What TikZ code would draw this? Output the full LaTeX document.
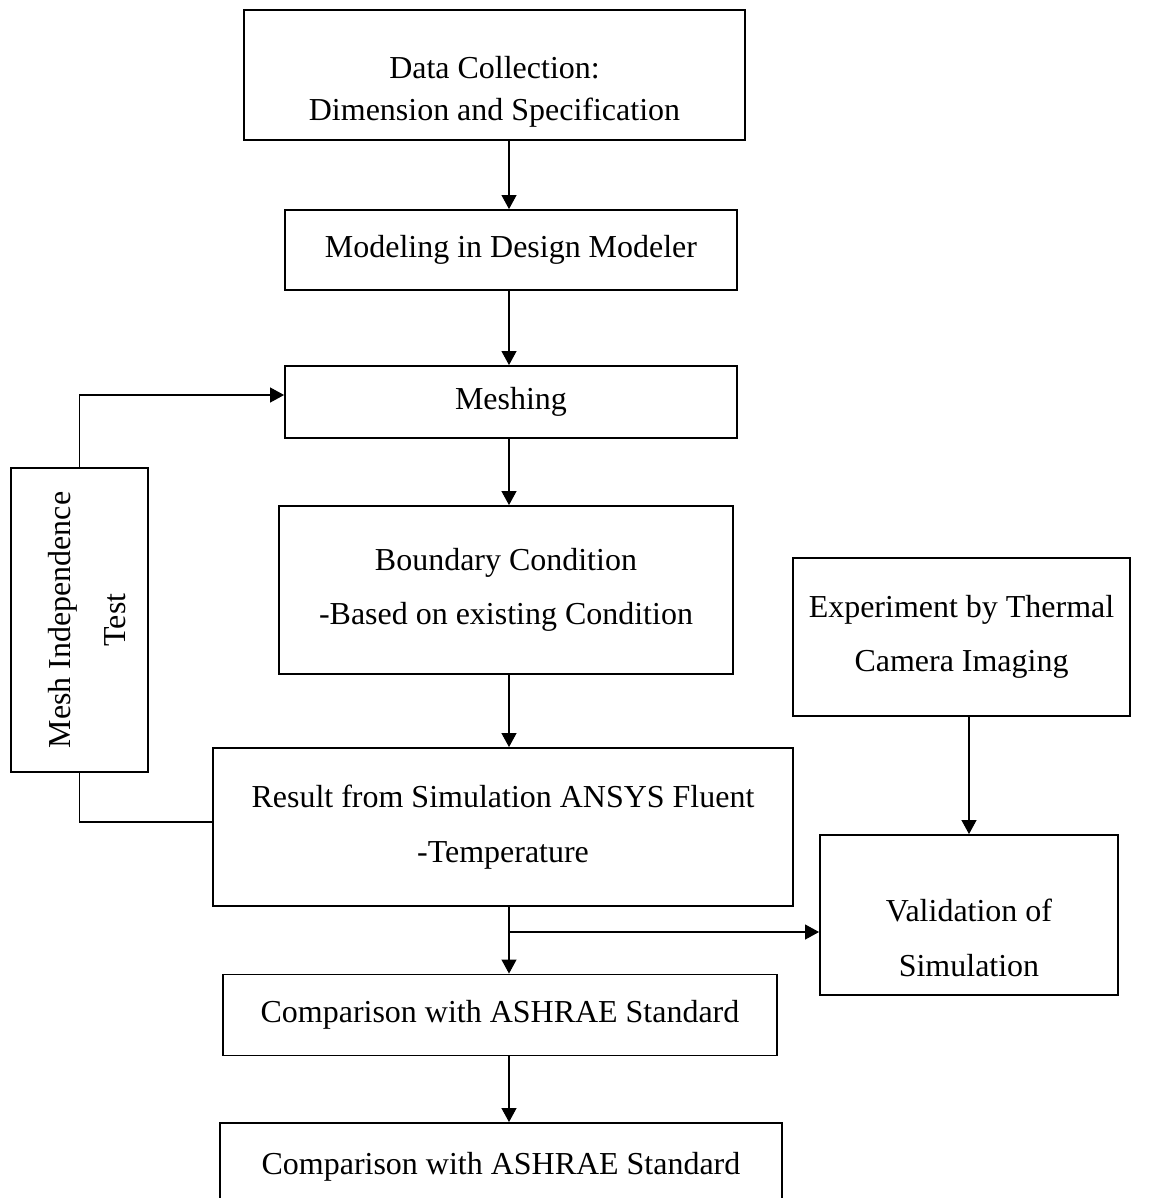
\documentclass[tikz,border=0pt]{standalone}
\usepackage{fontspec}
\setmainfont{Liberation Serif}
\usetikzlibrary{arrows.meta}

\begin{document}
\begin{tikzpicture}[x=0.02cm, y=-0.02cm,
    box/.style={draw, line width=1.1pt, rectangle, align=center, inner sep=0pt,
      font=\fontsize{18.2}{31}\selectfont},
    txt/.style={align=center, inner sep=0pt, font=\fontsize{18.2}{31}\selectfont},
    link/.style={line width=0.6pt},
    arr/.style={link, -{Triangle[length=0.28cm, width=0.3cm]}}]
  \useasboundingbox (0,0) rectangle (1152,1198);

  % main column
  \node[box, minimum width=10.02cm, minimum height=2.6cm] (data) at (494.5,75) {};
  \node[txt, font=\fontsize{18.2}{23.9}\selectfont] (datatxt) at (494.5,92)
    {Data Collection:\\Dimension and Specification};
  \node[box, minimum width=9.04cm, minimum height=1.6cm] (model) at (511,250)
    {Modeling in Design Modeler};
  \node[box, minimum width=9.04cm, minimum height=1.44cm] (mesh) at (511,402) {Meshing};
  \node[box, minimum width=9.08cm, minimum height=3.36cm] (bc) at (506,590)
    {Boundary Condition\\-Based on existing Condition};
  \node[box, minimum width=11.6cm, minimum height=3.16cm] (res) at (503,827)
    {Result from Simulation ANSYS Fluent\\-Temperature};
  \node[box, minimum width=11.08cm, minimum height=1.62cm] (comp) at (500,1015)
    {Comparison with ASHRAE Standard};
  \node[box, minimum width=11.24cm, minimum height=1.76cm] (final) at (501,1167)
    {Comparison with ASHRAE Standard};

  % side boxes
  \node[box, minimum width=2.74cm, minimum height=6.08cm] (mind) at (79.5,620) {};
  \node[txt, rotate=90] (mindtxt) at (87,620) {Mesh Independence\\Test};
  \node[box, minimum width=6.74cm, minimum height=3.16cm] (exp) at (961.5,637)
    {Experiment by Thermal\\Camera Imaging};
  \node[box, minimum width=5.96cm, minimum height=3.2cm] (val) at (969,915) {};
  \node[txt] (valtxt) at (969,938) {Validation of\\Simulation};

  \coordinate (spine) at (509,0);
  \coordinate (split) at (509,932);

  \draw[arr] (data.south -| spine) -- (model.north -| spine);
  \draw[arr] (model.south -| spine) -- (mesh.north -| spine);
  \draw[arr] (mesh.south -| spine) -- (bc.north -| spine);
  \draw[arr] (bc.south -| spine) -- (res.north -| spine);
  \draw[arr] (res.south -| spine) -- (comp.north -| spine);
  \draw[arr] (comp.south -| spine) -- (final.north -| spine);
  \draw[arr] (split) -- (split -| val.west);
  \draw[arr] (exp.south -| val.north) -- (val.north);
  \draw[arr] (mind.north) |- ([yshift=0.14cm]mesh.west);
  \draw[link] ([yshift=0.1cm]res.west) -| (mind.south);
\end{tikzpicture}
\end{document}
